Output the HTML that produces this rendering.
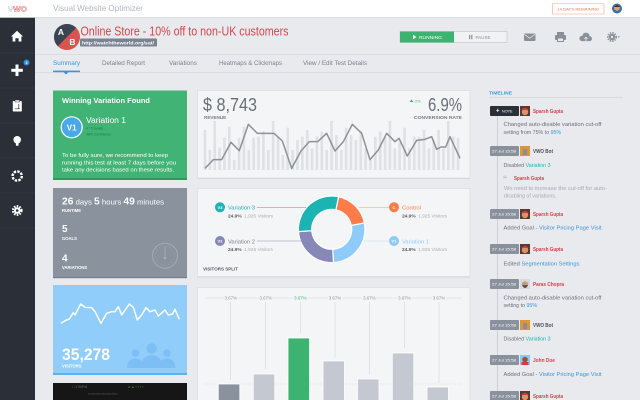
<!DOCTYPE html>
<html><head><meta charset="utf-8">
<style>
html,body{margin:0;padding:0;width:640px;height:400px;overflow:hidden;background:#e8eaed}
svg{display:block}
text{font-family:"Liberation Sans",sans-serif}
</style></head>
<body>
<svg width="640" height="400" viewBox="0 0 640 400" xmlns="http://www.w3.org/2000/svg">
<defs>
<clipPath id="abc"><circle cx="67" cy="37" r="13"/></clipPath>
</defs>
<rect width="640" height="400" fill="#e8eaed"/>

<!-- TOP BAR -->
<rect width="640" height="17" fill="#ffffff"/>
<rect y="17" width="640" height="0.8" fill="#d8dbdf"/>
<text x="8" y="11.5" font-size="7" font-weight="bold" fill="none" stroke="#c9cdd2" stroke-width="0.45" textLength="19" lengthAdjust="spacingAndGlyphs">V<tspan stroke="#e07070">WO</tspan></text>
<text x="53" y="11" font-size="8" fill="#b3b7bd" textLength="90" lengthAdjust="spacingAndGlyphs">Visual Website Optimizer</text>
<rect x="552.5" y="3.5" width="51.5" height="10.5" fill="#fff" stroke="#f6a58c" stroke-width="0.6" rx="1"/>
<text x="578.2" y="10.3" font-size="3.8" fill="#ef6d4a" text-anchor="middle" textLength="42" lengthAdjust="spacingAndGlyphs">14 DAYS REMAINING</text>
<circle cx="617" cy="8.5" r="5" fill="#3d6fa3"/>
<circle cx="617" cy="8" r="2.8" fill="#e2a273"/>
<path d="M614 7 Q617 3.5 620 7 Z" fill="#3a2a22"/>

<!-- SIDEBAR -->
<rect x="0" y="17.8" width="35" height="383" fill="#2b2f37"/>
<g stroke="#3d424b" stroke-width="0.7" stroke-dasharray="1 1">
<line x1="0" y1="53" x2="35" y2="53"/><line x1="0" y1="88" x2="35" y2="88"/>
<line x1="0" y1="123" x2="35" y2="123"/><line x1="0" y1="158" x2="35" y2="158"/>
<line x1="0" y1="193" x2="35" y2="193"/><line x1="0" y1="228" x2="35" y2="228"/>
</g>
<g fill="#ffffff">
<path d="M11 36.5 L17 30.8 L23 36.5 H21.4 V41.5 H18.6 V38.3 H15.4 V41.5 H12.6 V36.5 Z"/>
<rect x="15.5" y="64.5" width="3" height="11.5"/><rect x="11.3" y="68.8" width="11.5" height="3"/>
<rect x="12.8" y="101" width="9" height="10.5" rx="0.8"/>
<circle cx="17.2" cy="139.8" r="3.8"/><rect x="15.9" y="142.6" width="2.6" height="3.2" rx="0.6"/>
</g>
<circle cx="26.5" cy="62.5" r="3" fill="#2f8ee0"/>
<text x="26.5" y="63.9" font-size="3.6" fill="#fff" text-anchor="middle" font-weight="bold">3</text>
<rect x="15" y="100" width="4.5" height="2" fill="#ffffff" stroke="#2b2f37" stroke-width="0.5"/>
<path d="M14.8 108.8 H19.8 M18.8 104 V108.8" stroke="#2b2f37" stroke-width="0.7" fill="none"/>
<circle cx="17.2" cy="176" r="4.6" fill="none" stroke="#fff" stroke-width="2.4" stroke-dasharray="2.4 1.2"/>
<circle cx="17.2" cy="210.5" r="4.3" fill="none" stroke="#fff" stroke-width="2.2" stroke-dasharray="1.6 1.2"/>
<circle cx="17.2" cy="210.5" r="3.3" fill="#fff"/>
<circle cx="17.2" cy="210.5" r="1.3" fill="#2b2f37"/>

<!-- HEADER -->
<g clip-path="url(#abc)">
<rect x="53" y="23" width="28" height="28" fill="#d9534f"/>
<polygon points="50,20 84,20 50,54" fill="#3b4452"/>
</g>
<text x="61" y="35" font-size="8.5" font-weight="bold" fill="#fff" text-anchor="middle">A</text>
<text x="72.5" y="45" font-size="8.5" font-weight="bold" fill="#fff" text-anchor="middle">B</text>
<text x="80.5" y="35.3" font-size="12.5" fill="#d6464f" textLength="208" lengthAdjust="spacingAndGlyphs">Online Store - 10% off to non-UK customers</text>
<rect x="80" y="38.5" width="77" height="8" fill="#7b8390" rx="1"/>
<text x="82" y="44.3" font-size="4.8" font-weight="bold" fill="#fff" textLength="72" lengthAdjust="spacingAndGlyphs">http://watchtheworld.org/sat/</text>

<rect x="400" y="31.5" width="107" height="11" fill="#f1f2f4" stroke="#c5c9ce" stroke-width="0.7"/>
<rect x="400" y="31.5" width="54" height="11" fill="#3cb371"/>
<polygon points="413,34.8 413,39.2 416.5,37" fill="#fff"/>
<text x="419" y="38.8" font-size="4.3" fill="#fff" textLength="23" lengthAdjust="spacingAndGlyphs">RUNNING</text>
<rect x="469" y="34.8" width="1.2" height="4.4" fill="#8a9099"/><rect x="471.2" y="34.8" width="1.2" height="4.4" fill="#8a9099"/>
<text x="475.5" y="38.8" font-size="4.3" fill="#8a9099" textLength="15" lengthAdjust="spacingAndGlyphs">PAUSE</text>

<g fill="#8a9099">
<rect x="524" y="33.5" width="11.5" height="7.5" rx="1"/>
<rect x="555" y="35" width="11" height="5" rx="1"/><rect x="557" y="32" width="7" height="3"/><rect x="557" y="38" width="7" height="4"/>
<circle cx="582" cy="38.5" r="2.6"/><circle cx="586" cy="36.2" r="3.6"/><circle cx="589.6" cy="38.7" r="2.4"/><rect x="582" y="37.5" width="8" height="3.6"/>
<circle cx="612" cy="37" r="3.2"/>
<polygon points="617.5,36.4 620,36.4 618.75,37.9"/>
</g>
<path d="M524.5 34.3 L529.7 38.3 L535 34.3" stroke="#e8eaed" stroke-width="0.7" fill="none"/>
<rect x="558" y="38.5" width="5" height="2.5" fill="#e8eaed"/>
<path d="M586 41 V37.3 M584.5 38.8 L586 37.2 L587.5 38.8" stroke="#e8eaed" stroke-width="0.8" fill="none"/>
<circle cx="612" cy="37" r="4.2" fill="none" stroke="#8a9099" stroke-width="1.6" stroke-dasharray="1.4 1.1"/>
<circle cx="612" cy="37" r="1.2" fill="#e8eaed"/>

<rect x="35" y="54" width="605" height="0.7" fill="#d5d8dc"/>
<g font-size="6.2" fill="#7b8189">
<text x="53" y="65" fill="#3a96dc" textLength="27" lengthAdjust="spacingAndGlyphs">Summary</text>
<text x="102" y="65" textLength="43" lengthAdjust="spacingAndGlyphs">Detailed Report</text>
<text x="169" y="65" textLength="28" lengthAdjust="spacingAndGlyphs">Variations</text>
<text x="219" y="65" textLength="63" lengthAdjust="spacingAndGlyphs">Heatmaps &amp; Clickmaps</text>
<text x="303" y="65" textLength="64" lengthAdjust="spacingAndGlyphs">View / Edit Test Details</text>
</g>
<rect x="35" y="72" width="605" height="0.7" fill="#d5d8dc"/>
<rect x="53" y="70.6" width="27" height="1.6" fill="#3a96dc"/>
<polygon points="63.5,72 68.5,72 66,74.5" fill="#3a96dc"/>

<!-- GREEN CARD -->
<rect x="53" y="90.5" width="134" height="89" fill="#41b475"/>
<rect x="53" y="178" width="134" height="2" fill="#32975e"/>
<text x="62" y="103" font-size="7.6" font-weight="bold" fill="#fff" textLength="88" lengthAdjust="spacingAndGlyphs">Winning Variation Found</text>
<circle cx="71.7" cy="127.3" r="10.5" fill="#4aa8ea" stroke="#fff" stroke-width="1.2"/>
<text x="71.7" y="130.3" font-size="8" font-weight="bold" fill="#fff" text-anchor="middle">V1</text>
<text x="86" y="123" font-size="8" fill="#fff" textLength="40" lengthAdjust="spacingAndGlyphs">Variation 1</text>
<text x="86" y="129.6" font-size="3.8" fill="#1f7a45" textLength="17" lengthAdjust="spacingAndGlyphs">4 / 5 Goals</text>
<text x="86" y="135.6" font-size="3.8" fill="#1f7a45" textLength="25" lengthAdjust="spacingAndGlyphs">98% Confidence</text>
<g font-size="5.4" fill="#fff">
<text x="62" y="157" textLength="106" lengthAdjust="spacingAndGlyphs">To be fully sure, we recommend to keep</text>
<text x="62" y="164.3" textLength="114" lengthAdjust="spacingAndGlyphs">running this test at least 7 days before you</text>
<text x="62" y="171.7" textLength="112" lengthAdjust="spacingAndGlyphs">take any decisions based on these results.</text>
</g>

<!-- GRAY CARD -->
<rect x="53" y="188" width="134" height="90" fill="#8a929e"/>
<rect x="53" y="277" width="134" height="1.2" fill="#767d88"/>
<text x="62" y="204.5" fill="#fff" textLength="102" lengthAdjust="spacingAndGlyphs"><tspan font-size="10" font-weight="bold">26</tspan><tspan font-size="7.5"> days </tspan><tspan font-size="10" font-weight="bold">5</tspan><tspan font-size="7.5"> hours </tspan><tspan font-size="10" font-weight="bold">49</tspan><tspan font-size="7.5"> minutes</tspan></text>
<text x="62" y="212" font-size="4.2" font-weight="bold" fill="#fff">RUNTIME</text>
<text x="62" y="232" font-size="10" font-weight="bold" fill="#fff">5</text>
<text x="62" y="240" font-size="4.2" font-weight="bold" fill="#fff">GOALS</text>
<text x="62" y="261.5" font-size="10" font-weight="bold" fill="#fff">4</text>
<text x="62" y="269" font-size="4.2" font-weight="bold" fill="#fff">VARIATIONS</text>
<circle cx="165" cy="255.7" r="12.5" fill="none" stroke="#a4aab3" stroke-width="1"/>
<circle cx="165" cy="255.7" r="9.5" fill="none" stroke="#a4aab3" stroke-width="0.6" stroke-dasharray="1 2.5"/>
<line x1="165" y1="257" x2="165" y2="247" stroke="#a4aab3" stroke-width="1"/>
<circle cx="165" cy="258" r="1.4" fill="#a4aab3"/>

<!-- BLUE CARD -->
<rect x="53" y="285" width="134" height="90" fill="#90cdfa"/>
<rect x="53" y="373" width="134" height="2" fill="#5cb1ef"/>
<g fill="#7dbff4">
<circle cx="151.7" cy="348.5" r="5.2"/>
<path d="M141 368 Q141 356 151.7 355 Q162.4 356 162.4 368 Z"/>
<circle cx="135.5" cy="353" r="3.8"/>
<path d="M127 368 Q127 359 135.5 358.5 Q141 359 142.5 362 L141 368 Z"/>
<circle cx="167" cy="353" r="3.8"/>
<path d="M175.5 368 Q175.5 359 167 358.5 Q161.5 359 160.5 362 L162 368 Z"/>
</g>
<g transform="translate(40,280) scale(0.33333)">
<polyline points="63,130 75,122 88,117 100,98 105,105 122,72 135,82 155,83 165,95 183,130 200,100 215,95 225,95 235,80 245,105 268,72 280,82 292,120 305,105 318,83 330,95 345,90 355,108 375,90 385,105 398,102 405,88 418,118" fill="none" stroke="#fff" stroke-width="4.5" stroke-linejoin="round"/>
</g>
<text x="62" y="360" font-size="17" font-weight="bold" fill="#fff" textLength="48" lengthAdjust="spacingAndGlyphs">35,278</text>
<text x="62" y="367.3" font-size="4.2" font-weight="bold" fill="#fff">VISITORS</text>

<!-- DARK CARD -->
<rect x="53" y="383" width="134" height="17" fill="#161616"/>
<text x="72" y="388" font-size="3.5" fill="#666">□ 1:56PM</text>
<text x="128" y="388" font-size="3.5" fill="#3a8a3a">● ▲ ▪ ▪ ▪ ▪</text>
<text x="88" y="395" font-size="3.5" fill="#555">▪▪▪▪▪▪▪▪▪▪▪▪▪▪▪▪▪▪▪▪▪▪▪▪</text>

<!-- REVENUE CARD -->
<rect x="197.5" y="90.5" width="272.5" height="87.5" fill="#f4f5f7" stroke="#dcdfe3" stroke-width="0.8"/>
<rect x="197.5" y="178" width="272.5" height="1" fill="#d5d8dc"/>
<text x="203" y="111" font-size="18" fill="#6a6f77" textLength="54" lengthAdjust="spacingAndGlyphs">$ 8,743</text>
<text x="204" y="118.8" font-size="4.6" font-weight="bold" fill="#777c84">REVENUE</text>
<text x="462" y="111" font-size="18" fill="#6a6f77" text-anchor="end" textLength="34" lengthAdjust="spacingAndGlyphs">6.9%</text>
<polygon points="409.5,102 413.5,102 411.5,99.5" fill="#3cb371"/>
<text x="415" y="102.3" font-size="4" fill="#3cb371">2%</text>
<text x="462" y="118.8" font-size="4.6" font-weight="bold" fill="#777c84" text-anchor="end" textLength="48" lengthAdjust="spacingAndGlyphs">CONVERSION RATE</text>
<g transform="translate(195,85) scale(0.33333)">
<path stroke="#dfe1e5" stroke-width="8" fill="none" d="M30 135V255M44.6 195V255M59.2 108V255M73.8 188V255M88.4 158V255M103 125V255M117.6 225V255M132.2 158V255M146.8 125V255M161.4 195V255M176 158V255M190.6 155V255M205.2 138V255M219.8 195V255M234.4 108V255M249 155V255M263.6 210V255M278.2 128V255M292.8 195V255M307.4 165V255M322 155V255M336.6 135V255M351.2 190V255M365.8 155V255M380.4 140V255M395 195V255M409.6 108V255M424.2 150V255M438.8 195V255M453.4 128V255M468 150V255M482.6 165V255M497.2 138V255M511.8 190V255M526.4 225V255M541 155V255M555.6 140V255M570.2 155V255M584.8 108V255M599.4 190V255M614 170V255M628.6 128V255M643.2 190V255M657.8 155V255M672.4 155V255M687 135V255M701.6 190V255M716.2 165V255M730.8 135V255M745.4 190V255M760 108V255M774.6 155V255M789.2 158V255"/>
<polyline fill="none" stroke="#8d9198" stroke-width="4.5" stroke-linejoin="round" points="30,250 55,224 80,224 108,172 133,197 160,118 187,145 212,145 237,145 262,168 290,250 318,198 343,170 368,170 395,145 420,198 445,170 472,118 500,145 525,224 550,195 575,145 600,170 612,160 637,213 665,166 690,163 710,155 725,193 738,186 752,186 765,155 795,220"/>
</g>

<!-- VISITORS SPLIT CARD -->
<rect x="197.5" y="188.5" width="272.5" height="88" fill="#f4f5f7" stroke="#dcdfe3" stroke-width="0.8"/>
<rect x="197.5" y="276.5" width="272.5" height="1" fill="#d5d8dc"/>
<g stroke="#ffffff" stroke-width="1.2">
<path fill="#fc7c4a" d="M338.62 196.73 A33.3 33.3 0 0 1 364.39 222.95 L351.33 225.48 A20 20 0 0 0 335.86 209.74 Z"/>
<path fill="#8fcbf8" d="M364.39 222.95 A33.3 33.3 0 0 1 333.44 262.55 L332.75 249.27 A20 20 0 0 0 351.33 225.48 Z"/>
<path fill="#8787b8" d="M333.44 262.55 A33.3 33.3 0 0 1 298.48 231.62 L311.75 230.70 A20 20 0 0 0 332.75 249.27 Z"/>
<path fill="#1bb4b3" d="M298.48 231.62 A33.3 33.3 0 0 1 338.62 196.73 L335.86 209.74 A20 20 0 0 0 311.75 230.70 Z"/>
</g>
<line x1="257" y1="207.3" x2="306" y2="207.3" stroke="#1bb4b3" stroke-width="0.5"/>
<line x1="257" y1="241" x2="311" y2="241" stroke="#8a8fa8" stroke-width="0.5"/>
<line x1="359" y1="207.3" x2="389" y2="207.3" stroke="#fc9a78" stroke-width="0.5"/>
<line x1="364" y1="241" x2="389" y2="241" stroke="#8fcbf8" stroke-width="0.5" stroke-dasharray="1 0.8"/>
<circle cx="220" cy="207.3" r="5" fill="#1bb4b3"/><text x="220" y="208.8" font-size="4" font-weight="bold" fill="#fff" text-anchor="middle">V3</text>
<circle cx="220" cy="241" r="5" fill="#8787b8"/><text x="220" y="242.5" font-size="4" font-weight="bold" fill="#fff" text-anchor="middle">V2</text>
<circle cx="394" cy="207.3" r="5" fill="#fc7c4a"/><text x="394" y="208.8" font-size="4" font-weight="bold" fill="#fff" text-anchor="middle">C</text>
<circle cx="394" cy="241" r="5" fill="#8fcbf8"/><text x="394" y="242.5" font-size="4" font-weight="bold" fill="#fff" text-anchor="middle">V1</text>
<g font-size="5.4">
<text x="228" y="209.5" fill="#1bb4b3" textLength="27" lengthAdjust="spacingAndGlyphs">Variation 3</text>
<text x="228" y="243.3" fill="#7b8189" textLength="27" lengthAdjust="spacingAndGlyphs">Variation 2</text>
<text x="402" y="209.5" fill="#fc7c4a" textLength="19" lengthAdjust="spacingAndGlyphs">Control</text>
<text x="402" y="243.3" fill="#8fcbf8" textLength="27" lengthAdjust="spacingAndGlyphs">Variation 1</text>
</g>
<g font-size="4.8">
<text x="228" y="217.3"><tspan font-weight="bold" fill="#555b63">24.9%</tspan><tspan fill="#a8adb4" dx="2.5">1,925 Visitors</tspan></text>
<text x="228" y="251.2"><tspan font-weight="bold" fill="#555b63">24.9%</tspan><tspan fill="#a8adb4" dx="2.5">1,925 Visitors</tspan></text>
<text x="402" y="217.3"><tspan font-weight="bold" fill="#555b63">24.9%</tspan><tspan fill="#a8adb4" dx="2.5">1,925 Visitors</tspan></text>
<text x="402" y="251.2"><tspan font-weight="bold" fill="#555b63">24.9%</tspan><tspan fill="#a8adb4" dx="2.5">1,925 Visitors</tspan></text>
</g>
<text x="203" y="270.6" font-size="4.5" font-weight="bold" fill="#555b63" textLength="35" lengthAdjust="spacingAndGlyphs">VISITORS SPLIT</text>

<!-- BAR CARD -->
<rect x="197.5" y="287.5" width="272.5" height="120" fill="#f4f5f7" stroke="#dcdfe3" stroke-width="0.8"/>
<g stroke="#d3d6da" stroke-width="0.6">
<line x1="205" y1="298" x2="224" y2="298"/><line x1="237" y1="298" x2="259" y2="298"/>
<line x1="272" y1="298" x2="293" y2="298"/><line x1="307" y1="298" x2="328" y2="298"/>
<line x1="342" y1="298" x2="362" y2="298"/><line x1="376" y1="298" x2="397" y2="298"/>
<line x1="411" y1="298" x2="432" y2="298"/><line x1="446" y1="298" x2="462" y2="298"/>
<line x1="230.7" y1="302" x2="230.7" y2="380"/><line x1="265.7" y1="302" x2="265.7" y2="369"/>
<line x1="300.3" y1="302" x2="300.3" y2="333"/><line x1="335" y1="302" x2="335" y2="357"/>
<line x1="369.3" y1="302" x2="369.3" y2="374"/><line x1="404.3" y1="302" x2="404.3" y2="348"/>
<line x1="439" y1="302" x2="439" y2="383"/>
</g>
<line x1="205" y1="384" x2="462" y2="384" stroke="#c8ccd1" stroke-width="0.6" stroke-dasharray="1 1.5"/>
<g font-size="4.4" fill="#8d9299" text-anchor="middle">
<text x="230.7" y="299.6">3.67%</text><text x="265.7" y="299.6">3.67%</text>
<text x="300.3" y="299.6" fill="#3cb371">3.67%</text><text x="335" y="299.6">3.67%</text>
<text x="369.3" y="299.6">3.67%</text><text x="404.3" y="299.6">3.67%</text>
<text x="439" y="299.6">3.67%</text>
</g>
<g stroke="#ffffff" stroke-width="0.8">
<rect x="218.3" y="384" width="21.5" height="20" fill="#8a929e"/>
<rect x="253.3" y="374" width="21.5" height="30" fill="#c4c9d1"/>
<rect x="288" y="338" width="21.5" height="66" fill="#3cb371"/>
<rect x="323" y="361" width="21.5" height="43" fill="#c4c9d1"/>
<rect x="357.5" y="379" width="21.5" height="25" fill="#c4c9d1"/>
<rect x="392.3" y="353" width="21.5" height="51" fill="#c4c9d1"/>
<rect x="427" y="387" width="21.5" height="17" fill="#c4c9d1"/>
</g>

<!-- TIMELINE -->
<text x="489" y="94.5" font-size="4.5" font-weight="bold" fill="#3a96dc" textLength="23" lengthAdjust="spacingAndGlyphs">TIMELINE</text>
<line x1="489" y1="97.3" x2="623" y2="97.3" stroke="#d3d6da" stroke-width="0.8"/>
<line x1="497.5" y1="108" x2="497.5" y2="400" stroke="#c4c8ce" stroke-width="0.8"/>

<!-- entry badges -->
<g font-size="3.8" fill="#fff">
<rect x="490" y="106" width="29" height="10" fill="#2b2f37" rx="1"/>
<text x="496" y="112.3" font-size="6" font-weight="bold">+</text><text x="502" y="112.3">NOTE</text>
<rect x="490" y="146" width="29" height="10" fill="#8a919c" rx="1"/><text x="492" y="152.3" textLength="24" lengthAdjust="spacingAndGlyphs">27 Jul 15:58</text>
<rect x="490" y="209" width="29" height="10" fill="#8a919c" rx="1"/><text x="492" y="215.3" textLength="24" lengthAdjust="spacingAndGlyphs">27 Jul 15:58</text>
<rect x="490" y="244" width="29" height="10" fill="#8a919c" rx="1"/><text x="492" y="250.3" textLength="24" lengthAdjust="spacingAndGlyphs">27 Jul 15:58</text>
<rect x="490" y="279" width="29" height="10" fill="#8a919c" rx="1"/><text x="492" y="285.3" textLength="24" lengthAdjust="spacingAndGlyphs">27 Jul 15:58</text>
<rect x="490" y="320" width="29" height="10" fill="#8a919c" rx="1"/><text x="492" y="326.3" textLength="24" lengthAdjust="spacingAndGlyphs">27 Jul 15:58</text>
<rect x="490" y="355" width="29" height="10" fill="#8a919c" rx="1"/><text x="492" y="361.3" textLength="24" lengthAdjust="spacingAndGlyphs">27 Jul 15:58</text>
<rect x="490" y="391" width="29" height="10" fill="#8a919c" rx="1"/><text x="492" y="397.3" textLength="24" lengthAdjust="spacingAndGlyphs">27 Jul 15:58</text>
</g>

<!-- avatars -->
<!-- Sparsh -->
<g>
<rect x="520" y="106" width="10" height="10" fill="#5a3a30"/><circle cx="525" cy="112" r="3.2" fill="#d9956a"/><path d="M521.5 110 Q525 105.5 528.5 110 Z" fill="#d63c3c"/>
<rect x="520" y="209" width="10" height="10" fill="#5a3a30"/><circle cx="525" cy="215" r="3.2" fill="#d9956a"/><path d="M521.5 213 Q525 208.5 528.5 213 Z" fill="#d63c3c"/>
<rect x="520" y="244" width="10" height="10" fill="#5a3a30"/><circle cx="525" cy="250" r="3.2" fill="#d9956a"/><path d="M521.5 248 Q525 243.5 528.5 248 Z" fill="#d63c3c"/>
<rect x="520" y="391" width="10" height="10" fill="#5a3a30"/><circle cx="525" cy="397" r="3.2" fill="#d9956a"/><path d="M521.5 395 Q525 390.5 528.5 395 Z" fill="#d63c3c"/>
</g>
<!-- Bot -->
<rect x="520" y="146" width="10" height="10" fill="#d9963a"/><rect x="523" y="149" width="4" height="6" fill="#8d8d8d" rx="0.8"/>
<rect x="520" y="320" width="10" height="10" fill="#d9963a"/><rect x="523" y="323" width="4" height="6" fill="#8d8d8d" rx="0.8"/>
<!-- Paras -->
<rect x="520" y="279" width="10" height="10" fill="#d7d9dc"/><circle cx="525" cy="284.5" r="3.2" fill="#c99c7c"/><path d="M522 285 Q525 291 528 285 Z" fill="#555"/>
<!-- John -->
<rect x="520" y="355" width="10" height="10" fill="#8ccaf2"/><circle cx="525" cy="359.5" r="2.8" fill="#8a5a3a"/><rect x="521.5" y="362" width="7" height="3" fill="#d63c3c"/>

<!-- names -->
<g font-size="5.2" font-weight="bold" fill="#d4414a">
<text x="533" y="112.8" textLength="30" lengthAdjust="spacingAndGlyphs">Sparsh Gupta</text>
<text x="533" y="152.8" fill="#4a4f57" textLength="20" lengthAdjust="spacingAndGlyphs">VWO Bot</text>
<text x="514" y="180.2" textLength="30" lengthAdjust="spacingAndGlyphs">Sparsh Gupta</text>
<text x="533" y="215.8" textLength="30" lengthAdjust="spacingAndGlyphs">Sparsh Gupta</text>
<text x="533" y="250.8" textLength="30" lengthAdjust="spacingAndGlyphs">Sparsh Gupta</text>
<text x="533" y="285.8" textLength="31" lengthAdjust="spacingAndGlyphs">Paras Chopra</text>
<text x="533" y="326.8" fill="#4a4f57" textLength="20" lengthAdjust="spacingAndGlyphs">VWO Bot</text>
<text x="533" y="361.8" textLength="22" lengthAdjust="spacingAndGlyphs">John Doe</text>
<text x="533" y="397.8" textLength="30" lengthAdjust="spacingAndGlyphs">Sparsh Gupta</text>
</g>
<text x="503" y="184" font-size="12" font-family="Liberation Serif" fill="#b0b5bb">“</text>

<g font-size="5.3" fill="#6b7078">
<text x="503.5" y="126" textLength="98" lengthAdjust="spacingAndGlyphs">Changed auto-disable variation cut-off</text>
<text x="503.5" y="134">setting  from 75% to <tspan fill="#3a96dc">95%</tspan></text>
<text x="503.5" y="167">Disabled <tspan fill="#1bb4b3">Variation 3</tspan></text>
<text x="504" y="190" fill="#a6abb2" textLength="103" lengthAdjust="spacingAndGlyphs">We need to increase the cut-off for auto-</text>
<text x="504" y="197.5" fill="#a6abb2">disabling of variations.</text>
<text x="503.5" y="229.3" textLength="98" lengthAdjust="spacingAndGlyphs">Added Goal - <tspan fill="#3a96dc">Visitor Pricing Page Visit</tspan></text>
<text x="503.5" y="265.5" textLength="76" lengthAdjust="spacingAndGlyphs">Edited <tspan fill="#3a96dc">Segmentation Settings</tspan></text>
<text x="503.5" y="299.5" textLength="98" lengthAdjust="spacingAndGlyphs">Changed auto-disable variation cut-off</text>
<text x="503.5" y="307">setting to <tspan fill="#3a96dc">95%</tspan></text>
<text x="503.5" y="340.5">Disabled <tspan fill="#1bb4b3">Variation 3</tspan></text>
<text x="503.5" y="376" textLength="98" lengthAdjust="spacingAndGlyphs">Added Goal - <tspan fill="#3a96dc">Visitor Pricing Page Visit</tspan></text>
</g>
</svg>
</body></html>
